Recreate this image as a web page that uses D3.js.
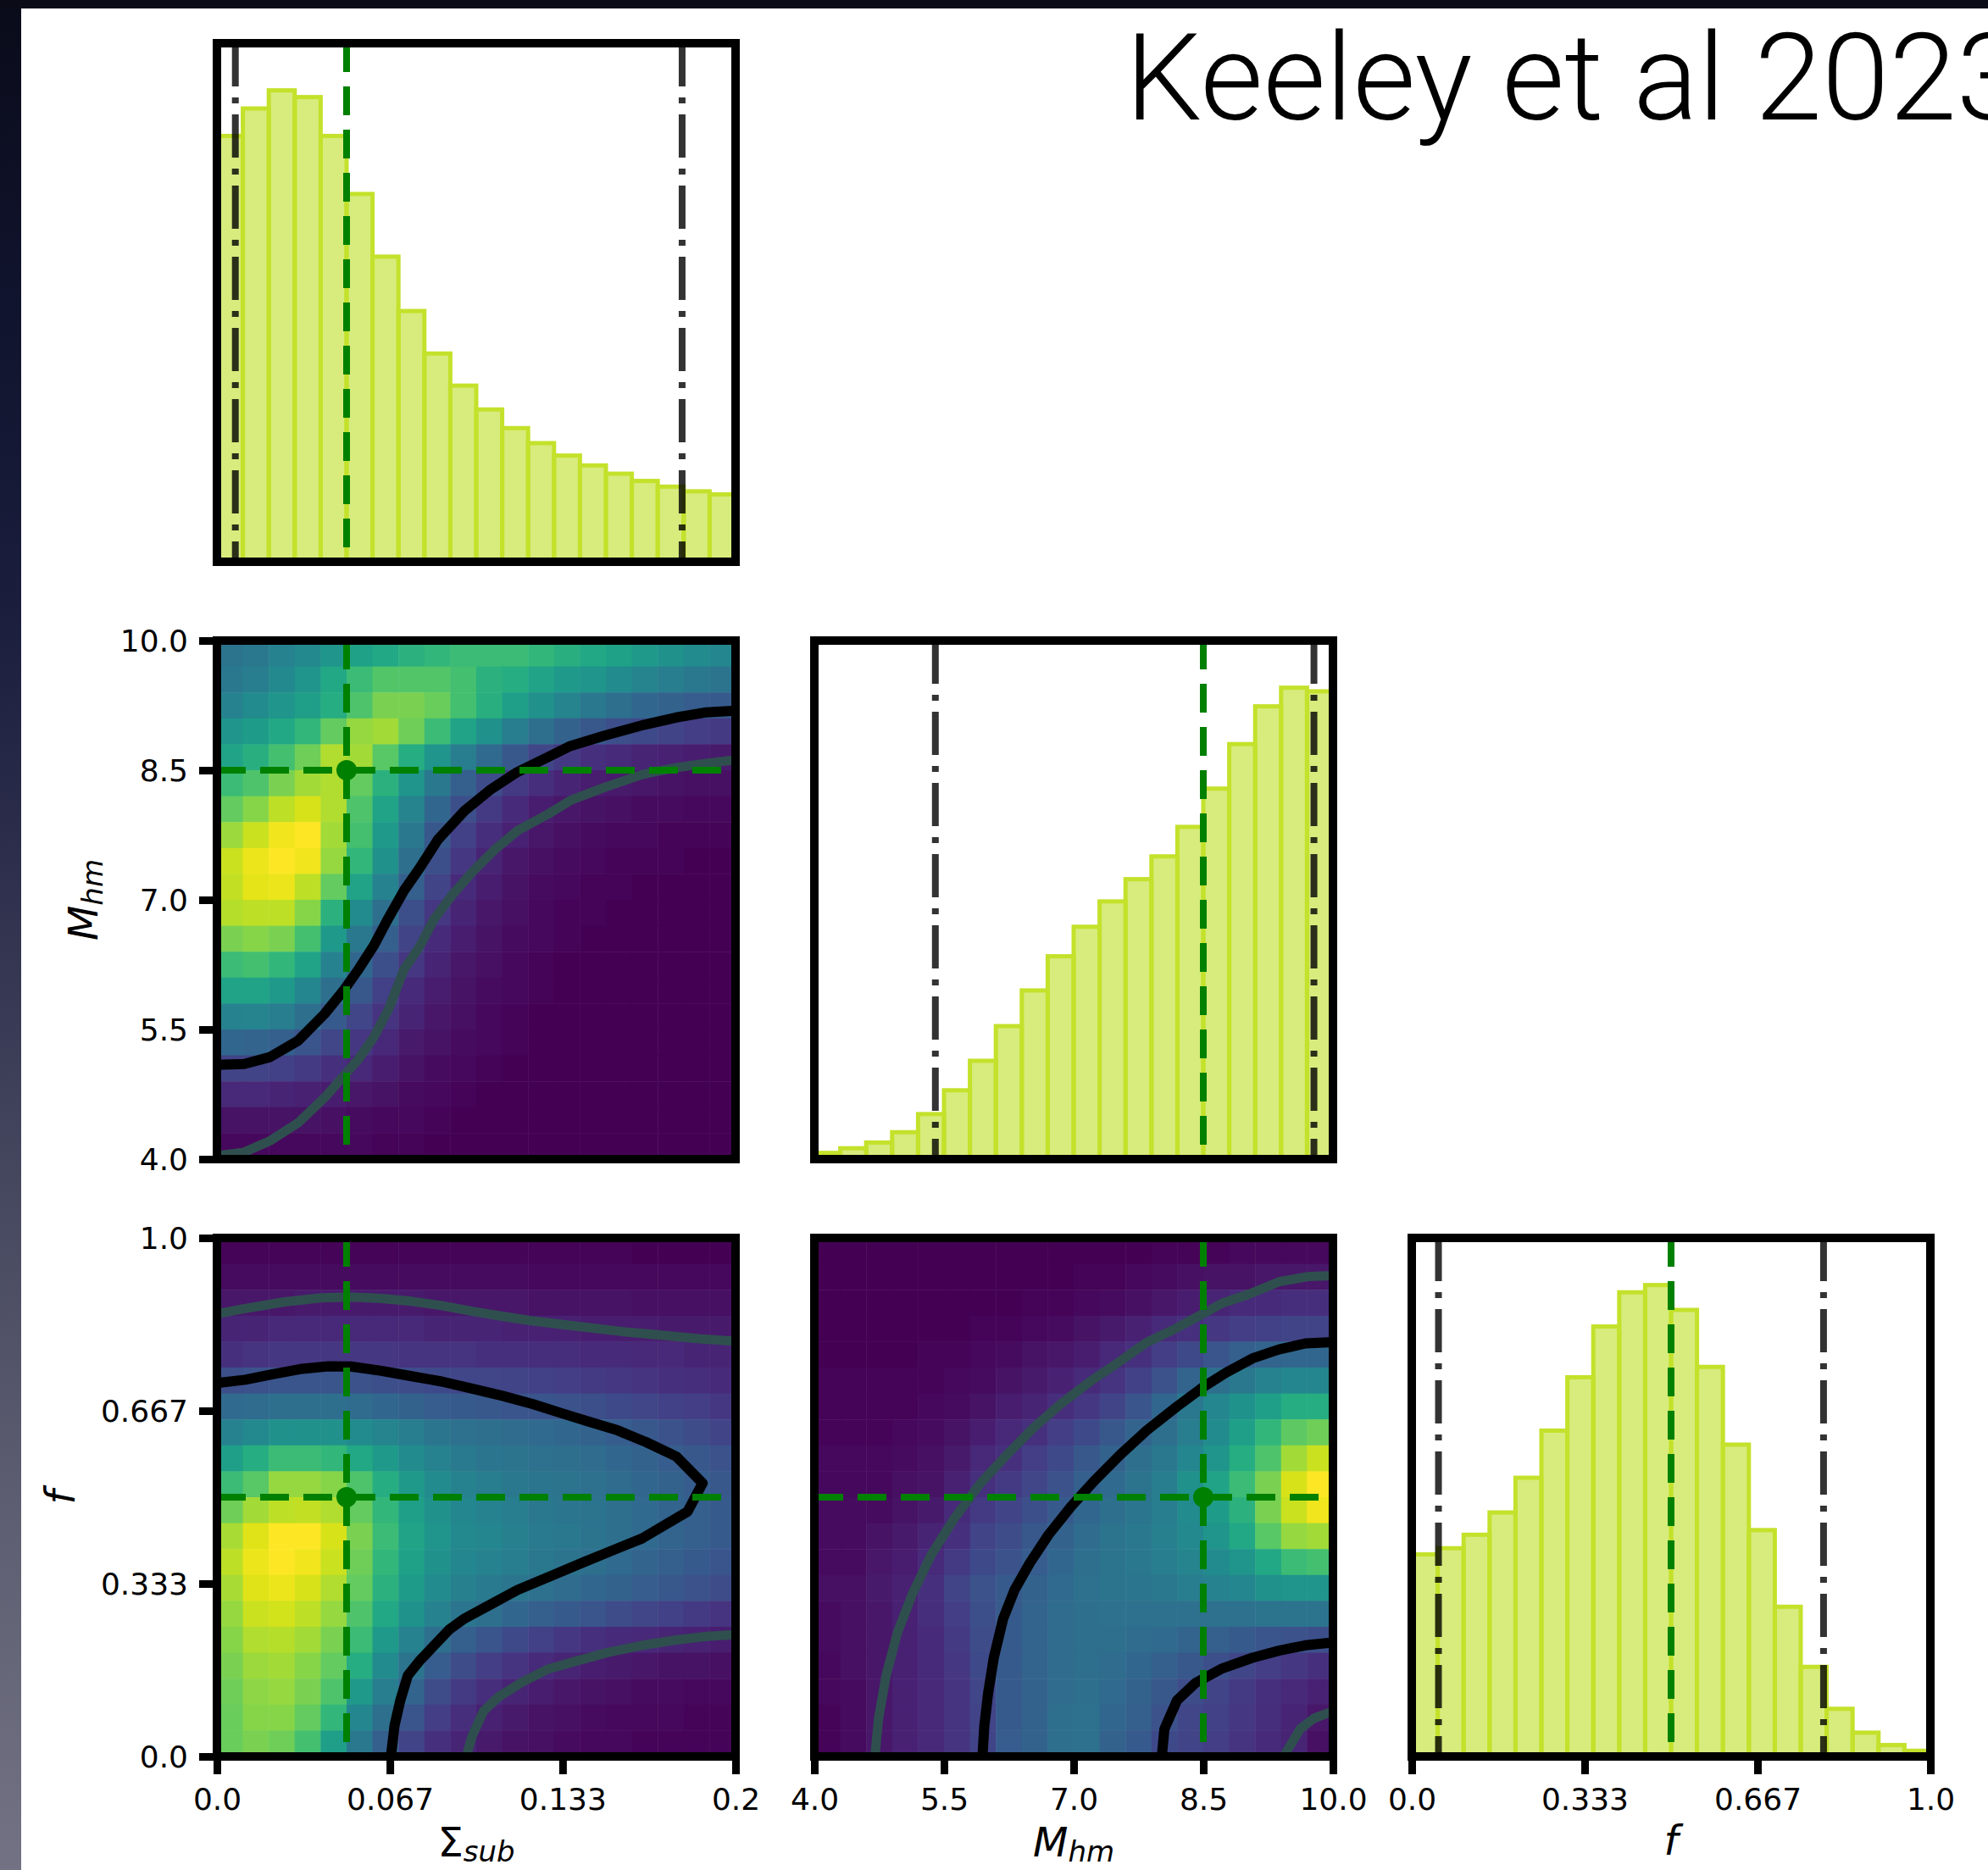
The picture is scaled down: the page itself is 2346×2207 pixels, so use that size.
<!DOCTYPE html>
<html>
<head>
<meta charset="utf-8">
<title>Keeley et al 2023 - corner plot</title>
<script src="https://cdn.jsdelivr.net/npm/d3@7"></script>
<style>
    body { margin: 0; background: white; }
    svg { display: block; }
</style>
</head>
<body>
<div id="chart"></div>
<script>
    // parameter ranges and truth values
    var sigmaDomain = [0, 0.2];
    var massDomain = [4, 10];
    var fracDomain = [0, 1];

    var truthSigma = 0.05, truthMass = 8.5, truthFrac = 0.5;

    // credible interval edges (dash-dot lines on the 1d histograms)
    var sigmaInterval = [0.0071, 0.1794];
    var massInterval = [5.40, 9.78];
    var fracInterval = [0.0515, 0.794];

    // tick values and labels
    var sigmaTicks = [0, 0.0667, 0.1333, 0.2];
    var sigmaTickLabels = ['0.0', '0.067', '0.133', '0.2'];
    var massTicks = [4, 5.5, 7, 8.5, 10];
    var massTickLabels = ['4.0', '5.5', '7.0', '8.5', '10.0'];
    var fracTicks = [0, 0.3333, 0.6667, 1];
    var fracTickLabels = ['0.0', '0.333', '0.667', '1.0'];

    // 1d histograms, 20 bins each (relative counts)
    var sigmaHist = [822, 875, 910, 897, 822, 710, 589, 484, 402, 340, 294, 258, 229, 205, 186, 170, 156, 145, 136, 130];
    var massHist = [12, 21, 32, 52, 87, 133, 190, 257, 326, 392, 449, 498, 541, 585, 642, 716, 802, 875, 911, 904];
    var fracHist = [390, 402, 428, 471, 538, 629, 732, 830, 896, 910, 862, 752, 602, 437, 289, 173, 92, 46, 22, 11];

    // 2d histograms, 20x20, rows from the top of the panel, 0-100
    var gridSigmaMass = [
        [38,40,44,47,52,57,60,64,66,68,68,68,66,63,60,57,54,50,48,46],
        [40,42,47,52,60,68,73,73,73,70,64,62,58,54,52,48,45,42,40,38],
        [44,48,52,56,62,72,80,80,77,70,63,56,50,45,40,36,33,31,29,28],
        [52,55,60,66,76,84,86,78,68,58,50,42,36,31,27,24,22,20,18,17],
        [58,63,70,78,88,86,74,62,52,42,34,27,21,17,14,12,10,9,8,7],
        [68,72,80,86,88,76,64,52,40,30,23,17,13,10,8,7,6,5,4,4],
        [76,82,90,94,88,72,58,45,33,24,17,12,8,6,5,4,3,3,2,2],
        [85,92,98,100,86,70,54,40,27,19,13,9,6,4,3,2,2,1,1,1],
        [92,97,100,98,84,66,50,36,24,16,10,6,4,3,2,1,1,1,0,0],
        [91,96,97,90,76,58,44,30,20,12,8,5,3,2,1,1,0,0,0,0],
        [89,90,90,82,64,48,36,24,16,10,6,4,2,1,1,0,0,0,0,0],
        [80,82,80,70,54,40,30,20,12,8,5,3,2,1,0,0,0,0,0,0],
        [68,70,66,58,44,33,24,16,10,6,4,2,1,0,0,0,0,0,0,0],
        [58,58,54,46,36,27,19,12,8,5,3,2,1,0,0,0,0,0,0,0],
        [44,45,42,36,28,21,15,10,6,4,2,1,0,0,0,0,0,0,0,0],
        [33,32,30,26,21,16,11,7,5,3,2,1,0,0,0,0,0,0,0,0],
        [20,20,19,17,14,11,8,5,3,2,1,0,0,0,0,0,0,0,0,0],
        [11,11,10,9,8,6,5,3,2,1,0,0,0,0,0,0,0,0,0,0],
        [5,5,5,5,4,3,2,2,1,0,0,0,0,0,0,0,0,0,0,0],
        [2,2,2,2,2,2,1,1,0,0,0,0,0,0,0,0,0,0,0,0]
    ];
    var gridSigmaFrac = [
        [1,1,1,1,1,1,1,1,1,1,1,1,1,1,1,1,0,0,0,0],
        [3,3,3,3,3,3,3,3,3,3,3,3,2,2,2,2,2,2,2,2],
        [6,6,6,7,7,7,7,7,6,6,6,6,5,5,5,5,4,4,4,4],
        [10,10,11,11,11,11,11,11,10,10,10,9,9,9,8,8,8,7,7,7],
        [14,15,16,16,16,16,16,15,15,15,14,14,13,13,12,12,11,11,10,10],
        [24,25,26,26,26,25,24,23,22,21,21,20,19,18,17,16,15,14,13,12],
        [34,35,36,36,36,35,33,31,29,28,27,26,26,25,24,22,21,19,18,16],
        [44,47,50,50,50,48,45,42,39,37,36,35,34,33,31,29,27,25,23,20],
        [56,62,68,68,66,60,54,48,44,41,39,38,37,36,35,33,31,29,27,25],
        [68,74,84,84,82,72,62,54,48,44,42,40,39,38,37,35,33,31,29,27],
        [78,86,90,91,88,76,66,56,50,46,44,42,40,39,38,36,34,32,30,28],
        [87,95,100,100,94,80,68,58,52,47,46,43,41,40,38,36,34,32,30,28],
        [90,97,100,98,92,78,66,57,50,46,44,42,40,38,36,34,32,30,28,26],
        [87,95,97,94,88,76,64,55,48,43,41,39,37,35,33,31,29,27,25,23],
        [84,92,93,90,84,72,60,51,44,39,36,33,30,28,26,23,21,19,17,15],
        [82,88,89,86,80,68,54,44,36,30,26,22,19,16,14,12,11,10,9,8],
        [80,85,86,82,76,62,48,38,29,23,18,15,12,10,8,7,6,5,5,4],
        [78,83,84,80,72,54,42,32,23,17,13,10,8,6,5,4,3,3,2,2],
        [77,82,82,76,66,46,36,26,18,13,9,7,5,4,3,2,2,2,1,1],
        [77,80,78,70,56,40,30,20,14,10,7,5,4,3,2,2,1,1,1,1]
    ];
    var gridMassFrac = [
        [0,0,0,0,0,0,0,0,0,0,0,0,0,1,1,1,2,2,2,2],
        [0,0,0,0,0,0,0,0,0,0,1,1,2,3,4,5,5,6,6,6],
        [0,0,0,0,0,0,0,0,1,1,2,3,4,6,8,10,12,12,13,13],
        [0,0,0,0,0,0,1,1,2,3,5,7,9,12,14,16,18,19,20,20],
        [0,0,0,0,1,1,2,3,5,6,8,11,14,18,22,26,30,32,33,33],
        [1,1,1,1,1,2,3,5,7,9,12,15,19,25,32,36,40,44,46,46],
        [1,1,1,1,2,3,5,8,10,13,16,20,26,33,40,46,51,56,62,62],
        [1,1,1,2,3,5,8,11,14,18,22,27,32,36,42,48,56,66,75,78],
        [2,2,2,3,4,7,11,14,18,22,27,31,36,40,46,52,62,72,86,92],
        [2,2,2,4,5,9,14,17,21,25,30,34,38,42,50,58,68,80,94,100],
        [3,3,3,5,7,12,17,20,24,28,33,36,39,42,48,55,64,80,92,98],
        [3,3,5,7,10,14,20,23,27,31,35,38,40,43,47,52,60,74,84,86],
        [3,3,6,8,12,17,22,25,29,33,36,38,40,42,45,48,52,60,68,70],
        [4,4,7,9,14,20,25,28,31,34,37,38,39,40,42,44,46,50,52,52],
        [3,4,6,9,13,18,24,28,32,35,36,37,37,37,37,37,37,38,38,38],
        [3,4,6,9,12,17,23,28,32,35,36,36,35,34,32,30,28,26,25,24],
        [2,4,6,9,12,16,22,28,32,35,36,35,33,30,27,24,21,18,16,14],
        [2,3,6,9,11,15,21,28,31,35,36,34,31,27,23,20,17,14,11,9],
        [1,3,6,9,11,15,20,28,31,36,37,33,30,25,21,19,16,13,10,6],
        [1,3,6,9,11,15,20,29,31,36,37,31,28,22,20,18,15,12,10,4]
    ];

    // contour lines [x, y] in data units
    var contourSigmaMass68 = [[0,5.09],[0.0105,5.10],[0.0204,5.18],[0.0313,5.37],[0.0415,5.68],[0.0488,5.95],[0.0547,6.20],[0.0605,6.47],[0.0656,6.76],[0.0722,7.11],[0.078,7.36],[0.0853,7.70],[0.0955,8.03],[0.1057,8.28],[0.1159,8.48],[0.1276,8.65],[0.1363,8.78],[0.1494,8.90],[0.164,9.02],[0.1771,9.11],[0.1888,9.17],[0.2,9.19]];
    var contourSigmaMass95 = [[0,4.04],[0.0105,4.08],[0.0204,4.21],[0.0313,4.42],[0.0415,4.71],[0.0488,4.96],[0.0547,5.16],[0.0605,5.41],[0.0663,5.74],[0.0722,6.20],[0.078,6.45],[0.0838,6.78],[0.0911,7.07],[0.0984,7.32],[0.1071,7.58],[0.1159,7.80],[0.1276,7.99],[0.1363,8.15],[0.1494,8.30],[0.164,8.45],[0.1771,8.53],[0.1888,8.58],[0.2,8.62]];
    var contourSigmaFrac68 = [[0,0.72],[0.0109,0.7265],[0.0211,0.7368],[0.0321,0.747],[0.043,0.7526],[0.0517,0.752],[0.0634,0.7436],[0.0751,0.7333],[0.0867,0.723],[0.0984,0.7093],[0.1101,0.6955],[0.1217,0.6797],[0.1334,0.6612],[0.1436,0.6454],[0.1545,0.6289],[0.1655,0.6062],[0.1771,0.5787],[0.1873,0.5271],[0.1815,0.4722],[0.164,0.4206],[0.1538,0.40],[0.1421,0.376],[0.129,0.3485],[0.1159,0.321],[0.1057,0.2935],[0.0955,0.266],[0.0897,0.2454],[0.0838,0.2144],[0.078,0.1835],[0.0736,0.156],[0.0707,0.1079],[0.0685,0.0598],[0.0671,0]];
    var contourSigmaFrac95a = [[0,0.8536],[0.0109,0.8639],[0.0255,0.8763],[0.0401,0.8845],[0.0517,0.8859],[0.0634,0.8832],[0.0751,0.8777],[0.0867,0.8694],[0.0984,0.8584],[0.1101,0.8488],[0.1217,0.8399],[0.1334,0.833],[0.145,0.8261],[0.1567,0.8192],[0.1713,0.8124],[0.1859,0.8055],[0.2,0.8007]];
    var contourSigmaFrac95b = [[0.0962,0],[0.0984,0.0392],[0.1028,0.0873],[0.1086,0.1148],[0.1174,0.1423],[0.1276,0.1684],[0.1392,0.1849],[0.1509,0.2007],[0.164,0.2144],[0.1771,0.2247],[0.1888,0.2316],[0.2,0.235]];
    var contourMassFrac68a = [[5.945,0],[5.967,0.0598],[6.01,0.1216],[6.076,0.1904],[6.185,0.266],[6.316,0.321],[6.491,0.3725],[6.709,0.4275],[6.972,0.4825],[7.234,0.5306],[7.54,0.5821],[7.846,0.6289],[8.195,0.6749],[8.501,0.7127],[8.763,0.7402],[9.069,0.7677],[9.375,0.7849],[9.681,0.7966],[10,0.799]];
    var contourMassFrac68b = [[8.02,0],[8.05,0.0529],[8.195,0.1079],[8.414,0.1423],[8.72,0.1698],[9.069,0.1904],[9.375,0.2041],[9.681,0.2144],[10,0.22]];
    var contourMassFrac95a = [[4.70,0],[4.743,0.0735],[4.83,0.156],[4.961,0.2385],[5.136,0.3141],[5.355,0.3897],[5.617,0.4584],[5.923,0.5271],[6.229,0.5821],[6.535,0.6337],[6.841,0.6784],[7.19,0.723],[7.496,0.7574],[7.846,0.7986],[8.151,0.8227],[8.457,0.8502],[8.72,0.8742],[9.026,0.8914],[9.375,0.9155],[9.725,0.9258],[10,0.9271]];
    var contourMassFrac95b = [[9.43,0],[9.62,0.0529],[9.78,0.0735],[10,0.0873]];

    // layout
    var W = 2346, H = 2207;
    var colX = [256, 961, 1666];
    var rowY = [51, 756, 1461];
    var S = 612;

    var svg = d3.select('#chart')
            .append('svg')
            .attr('width', W)
            .attr('height', H);
    var defs = svg.append('defs');

    svg.append('rect')
            .attr('width', W)
            .attr('height', H)
            .attr('fill', '#fff');

    // dark slide border, left and top
    var edge = defs.append('linearGradient')
            .attr('id', 'edge')
            .attr('x1', 0).attr('y1', 0).attr('x2', 0).attr('y2', 1);
    [[0, '#0a0b1a'], [0.15, '#10132c'], [0.32, '#1a1d3c'], [0.45, '#2b2d4b'],
     [0.62, '#44465e'], [0.8, '#5c5d70'], [1, '#727284']].forEach(function(s) {
        edge.append('stop').attr('offset', s[0]).attr('stop-color', s[1]);
    });
    svg.append('rect')
            .attr('width', 25)
            .attr('height', H)
            .attr('fill', 'url(#edge)');
    svg.append('rect')
            .attr('width', W)
            .attr('height', 10)
            .attr('fill', '#0b0b18');

    svg.append('text')
            .attr('x', 1328)
            .attr('y', 141)
            .attr('font-family', 'Roboto, Lato, sans-serif')
            .attr('font-weight', 300)
            .attr('font-size', 143)
            .attr('fill', '#000')
            .text('Keeley et al 2023');

    function panel(col, row, xDom, yDom) {
        var g = svg.append('g')
                .attr('transform', 'translate(' + colX[col] + ',' + rowY[row] + ')');
        var id = 'clip' + col + row;
        defs.append('clipPath').attr('id', id)
            .append('rect').attr('width', S).attr('height', S);
        return {
            g: g,
            body: g.append('g').attr('clip-path', 'url(#' + id + ')'),
            x: d3.scaleLinear().domain(xDom).range([0, S]),
            y: d3.scaleLinear().domain(yDom).range([S, 0])
        };
    }

    function truthLine(p, vertical, v) {
        p.body.append('line')
                .attr('x1', vertical ? p.x(v) : 0)
                .attr('x2', vertical ? p.x(v) : S)
                .attr('y1', vertical ? 0 : p.y(v))
                .attr('y2', vertical ? S : p.y(v))
                .attr('stroke', '#008000')
                .attr('stroke-width', 8)
                .attr('stroke-dasharray', '34,17');
    }

    function hist(p, values, interval, truth) {
        var lo = p.x.domain()[0], hi = p.x.domain()[1];
        var w = (hi - lo) / values.length;
        p.y.domain([0, d3.max(values) * 1.1]);

        p.body.selectAll('rect.bar')
                .data(values)
            .enter().append('rect')
                .attr('x', function(d, i) { return p.x(lo + i * w) })
                .attr('width', function(d, i) { return p.x(lo + (i + 1) * w) - p.x(lo + i * w) })
                .attr('y', function(d) { return p.y(d) })
                .attr('height', function(d) { return p.y(0) - p.y(d) })
                .attr('fill', '#bddf26')
                .attr('fill-opacity', 0.6)
                .attr('stroke', '#c4e12b')
                .attr('stroke-width', 5);

        p.body.selectAll('line.ci')
                .data(interval)
            .enter().append('line')
                .attr('x1', function(d) { return p.x(d) })
                .attr('x2', function(d) { return p.x(d) })
                .attr('y1', 0)
                .attr('y2', S)
                .attr('stroke', '#000')
                .attr('stroke-opacity', 0.8)
                .attr('stroke-width', 8)
                .attr('stroke-dasharray', '51,13,7,13');

        truthLine(p, true, truth);
    }

    function density(p, grid, lines68, lines95, tx, ty) {
        var x0 = p.x.domain()[0], x1 = p.x.domain()[1];
        var y0 = p.y.domain()[0], y1 = p.y.domain()[1];
        var dx = (x1 - x0) / grid[0].length, dy = (y1 - y0) / grid.length;
        var cells = [];
        grid.forEach(function(row, r) {
            row.forEach(function(v, c) { cells.push({r: r, c: c, v: v}) });
        });

        p.body.selectAll('rect.cell')
                .data(cells)
            .enter().append('rect')
                .attr('x', function(d) { return p.x(x0 + d.c * dx) })
                .attr('y', function(d) { return p.y(y1 - d.r * dy) })
                .attr('width', function(d) { return p.x(x0 + (d.c + 1) * dx) - p.x(x0 + d.c * dx) + 0.5 })
                .attr('height', function(d) { return p.y(y1 - (d.r + 1) * dy) - p.y(y1 - d.r * dy) + 0.5 })
                .attr('fill', function(d) { return d3.interpolateViridis(d.v / 100) });

        var line = d3.line()
                .x(function(d) { return p.x(d[0]) })
                .y(function(d) { return p.y(d[1]) });

        lines95.forEach(function(c) {
            p.body.append('path').attr('d', line(c))
                    .attr('fill', 'none').attr('stroke', '#2f4f4f')
                    .attr('stroke-width', 11).attr('stroke-linejoin', 'round');
        });
        lines68.forEach(function(c) {
            p.body.append('path').attr('d', line(c))
                    .attr('fill', 'none').attr('stroke', '#000')
                    .attr('stroke-width', 12).attr('stroke-linejoin', 'round');
        });

        truthLine(p, true, tx);
        truthLine(p, false, ty);
        p.body.append('circle')
                .attr('cx', p.x(tx))
                .attr('cy', p.y(ty))
                .attr('r', 12)
                .attr('fill', '#008000');
    }

    function frame(p) {
        p.g.append('rect')
                .attr('width', S)
                .attr('height', S)
                .attr('fill', 'none')
                .attr('stroke', '#000')
                .attr('stroke-width', 10);
    }

    function styleAxis(a, dy) {
        a.select('.domain').remove();
        a.selectAll('line').attr('stroke', '#000').attr('stroke-width', 9);
        a.selectAll('text')
                .attr('font-family', "'DejaVu Sans', sans-serif")
                .attr('font-size', 36)
                .attr('fill', '#000');
        if (dy) a.selectAll('text').attr('dy', dy);
    }

    function xAxis(p, ticks, labels) {
        p.g.append('g')
                .attr('transform', 'translate(0,' + S + ')')
                .call(d3.axisBottom(p.x).tickValues(ticks)
                        .tickFormat(function(d, i) { return labels[i] })
                        .tickSize(21).tickPadding(16))
                .call(function(a) { styleAxis(a) });
    }

    function yAxis(p, ticks, labels) {
        p.g.append('g')
                .call(d3.axisLeft(p.y).tickValues(ticks)
                        .tickFormat(function(d, i) { return labels[i] })
                        .tickSize(21).tickPadding(13))
                .call(function(a) { styleAxis(a, '0.36em') });
    }

    function mathLabel(x, y, main, sub, italicMain, rotate) {
        var t = svg.append('text')
                .attr('transform', 'translate(' + x + ',' + y + ')' + (rotate ? ' rotate(-90)' : ''))
                .attr('text-anchor', 'middle')
                .attr('font-family', "'DejaVu Sans', sans-serif")
                .attr('font-size', 48)
                .attr('fill', '#000');
        t.append('tspan')
                .attr('font-style', italicMain ? 'italic' : 'normal')
                .text(main);
        if (sub) {
            t.append('tspan')
                    .attr('font-style', 'italic')
                    .attr('font-size', 34)
                    .attr('dy', 6)
                    .text(sub);
        }
    }

    // diagonal: 1d histograms
    var h0 = panel(0, 0, sigmaDomain, [0, 1]);
    hist(h0, sigmaHist, sigmaInterval, truthSigma);
    frame(h0);

    var h1 = panel(1, 1, massDomain, [0, 1]);
    hist(h1, massHist, massInterval, truthMass);
    frame(h1);

    var h2 = panel(2, 2, fracDomain, [0, 1]);
    hist(h2, fracHist, fracInterval, truthFrac);
    frame(h2);
    xAxis(h2, fracTicks, fracTickLabels);

    // lower triangle: 2d histograms
    var sm = panel(0, 1, sigmaDomain, massDomain);
    density(sm, gridSigmaMass, [contourSigmaMass68], [contourSigmaMass95], truthSigma, truthMass);
    frame(sm);
    yAxis(sm, massTicks, massTickLabels);

    var sf = panel(0, 2, sigmaDomain, fracDomain);
    density(sf, gridSigmaFrac, [contourSigmaFrac68], [contourSigmaFrac95a, contourSigmaFrac95b], truthSigma, truthFrac);
    frame(sf);
    xAxis(sf, sigmaTicks, sigmaTickLabels);
    yAxis(sf, fracTicks, fracTickLabels);

    var mf = panel(1, 2, massDomain, fracDomain);
    density(mf, gridMassFrac, [contourMassFrac68a, contourMassFrac68b], [contourMassFrac95a, contourMassFrac95b], truthMass, truthFrac);
    frame(mf);
    xAxis(mf, massTicks, massTickLabels);

    // axis labels
    mathLabel(colX[0] + S / 2, 2191, '\u03a3', 'sub', false, false);
    mathLabel(colX[1] + S / 2, 2191, 'M', 'hm', true, false);
    mathLabel(colX[2] + S / 2, 2189, 'f', null, true, false);
    mathLabel(115, rowY[1] + S / 2, 'M', 'hm', true, true);
    mathLabel(88, rowY[2] + S / 2, 'f', null, true, true);
</script>
</body>
</html>
